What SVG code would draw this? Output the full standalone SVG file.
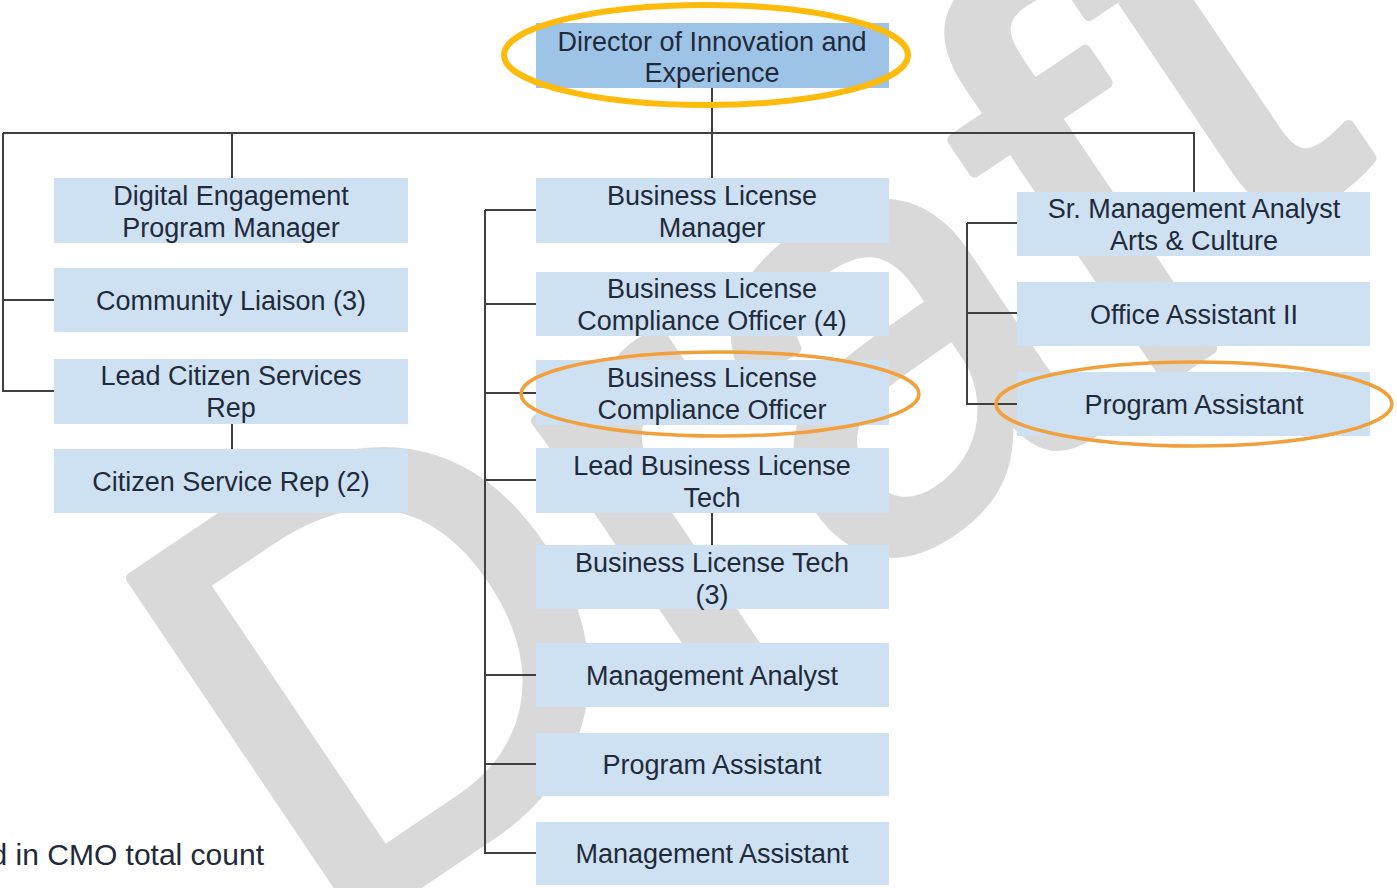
<svg xmlns="http://www.w3.org/2000/svg" width="1397" height="888" viewBox="0 0 1397 888">
<style>
.box{fill:#cee1f3}
.top{fill:#9dc3e6}
.t{font-family:"Liberation Sans",Arial,sans-serif;font-size:27px;fill:#1f2a3a;text-anchor:middle}
.ln{stroke:#404040;stroke-width:2;fill:none}
.wm{font-family:"Liberation Sans",Arial,sans-serif;font-size:600px;fill:#d9d9d9;stroke:#d9d9d9;stroke-width:12;stroke-linejoin:round}
</style>
<rect width="1397" height="888" fill="#ffffff"/>
<g id="watermark">
<text class="wm" transform="translate(322,948) rotate(-34)" x="0" y="0">Draf<tspan dx="15" dy="-66">t</tspan></text>
</g>
<g id="connectors">
<path class="ln" d="M712,88 V178 M3,133 H1194 V192 M232,133 V178 M3,133 V391 H54 M3,300 H54 M232,424 V449"/>
<path class="ln" d="M485,210 V853 H536 M485,210 H536 M485,304 H536 M485,393 H536 M485,480 H536 M485,675 H536 M485,764 H536 M712,513 V545"/>
<path class="ln" d="M967,223 V404 H1017 M967,223 H1017 M967,313 H1017"/>
</g>
<g id="n-director"><rect class="top" x="536" y="23" width="353" height="65"/><text class="t" x="712" y="51">Director of Innovation and</text><text class="t" x="712" y="82">Experience</text></g>
<g id="n-digital"><rect class="box" x="54" y="178" width="354" height="65"/><text class="t" x="231" y="205">Digital Engagement</text><text class="t" x="231" y="237">Program Manager</text></g>
<g id="n-community"><rect class="box" x="54" y="268" width="354" height="64"/><text class="t" x="231" y="310">Community Liaison (3)</text></g>
<g id="n-leadcitizen"><rect class="box" x="54" y="359" width="354" height="65"/><text class="t" x="231" y="385">Lead Citizen Services</text><text class="t" x="231" y="417">Rep</text></g>
<g id="n-citizen"><rect class="box" x="54" y="449" width="354" height="64"/><text class="t" x="231" y="491">Citizen Service Rep (2)</text></g>
<g id="n-blmanager"><rect class="box" x="536" y="178" width="353" height="65"/><text class="t" x="712" y="205">Business License</text><text class="t" x="712" y="237">Manager</text></g>
<g id="n-blco4"><rect class="box" x="536" y="272" width="353" height="64"/><text class="t" x="712" y="298">Business License</text><text class="t" x="712" y="330">Compliance Officer (4)</text></g>
<g id="n-blco"><rect class="box" x="536" y="360" width="353" height="65"/><text class="t" x="712" y="387">Business License</text><text class="t" x="712" y="419">Compliance Officer</text></g>
<g id="n-leadbltech"><rect class="box" x="536" y="448" width="353" height="65"/><text class="t" x="712" y="475">Lead Business License</text><text class="t" x="712" y="507">Tech</text></g>
<g id="n-bltech"><rect class="box" x="536" y="545" width="353" height="64"/><text class="t" x="712" y="572">Business License Tech</text><text class="t" x="712" y="604">(3)</text></g>
<g id="n-ma"><rect class="box" x="536" y="643" width="353" height="64"/><text class="t" x="712" y="685">Management Analyst</text></g>
<g id="n-pa1"><rect class="box" x="536" y="733" width="353" height="63"/><text class="t" x="712" y="774">Program Assistant</text></g>
<g id="n-mgmtasst"><rect class="box" x="536" y="822" width="353" height="63"/><text class="t" x="712" y="863">Management Assistant</text></g>
<g id="n-srma"><rect class="box" x="1017" y="192" width="353" height="64"/><text class="t" x="1194" y="218">Sr. Management Analyst</text><text class="t" x="1194" y="250">Arts &amp; Culture</text></g>
<g id="n-oa2"><rect class="box" x="1017" y="282" width="353" height="64"/><text class="t" x="1194" y="324">Office Assistant II</text></g>
<g id="n-pa2"><rect class="box" x="1017" y="372" width="353" height="64"/><text class="t" x="1194" y="414">Program Assistant</text></g>
<g id="highlights">
<ellipse cx="706" cy="55" rx="202" ry="50" fill="none" stroke="#fdbb0c" stroke-width="6"/>
<ellipse cx="720" cy="394" rx="199" ry="42" fill="none" stroke="#f0a03c" stroke-width="3.5"/>
<ellipse cx="1194" cy="404" rx="198" ry="42" fill="none" stroke="#f0a03c" stroke-width="3.5"/>
</g>
<text class="t" x="264" y="865" style="font-size:30px;text-anchor:end">d in CMO total count</text>
</svg>
